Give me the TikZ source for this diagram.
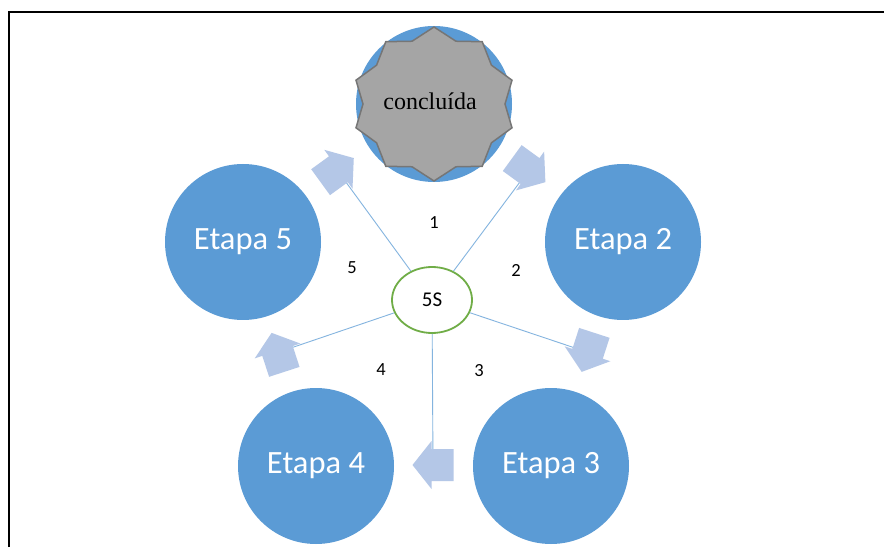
\documentclass[tikz,border=0pt]{standalone}
\usepackage{fontspec}
\setmainfont{Carlito}
\newfontfamily\serifface{Liberation Serif}
\usetikzlibrary{shapes.geometric,calc}
\definecolor{stepblue}{HTML}{5B9BD5}
\definecolor{arrowblue}{HTML}{B4C7E7}
\definecolor{ringgreen}{HTML}{70AD47}
\definecolor{stargray}{HTML}{A5A5A5}
\definecolor{staredge}{HTML}{767676}
\begin{document}
\begin{tikzpicture}[x=1pt,y=1pt,
  stage/.style={circle,fill=stepblue,minimum size=156pt,inner sep=0pt,text=white,font=\fontsize{32.5}{36}\selectfont},
  hub/.style={ellipse,draw=ringgreen,line width=1.8pt,fill=white,minimum width=80pt,minimum height=66pt,inner sep=0pt,font=\fontsize{21}{24}\selectfont},
  spoke/.style={draw=stepblue!75,line width=0.9pt},
  tag/.style={font=\fontsize{18.5}{20}\selectfont},
  blockarrow/.pic={\fill[arrowblue] (-20.5,-16) -- (1.5,-16) -- (1.5,-24) -- (20.5,0) -- (1.5,24) -- (1.5,16) -- (-20.5,16) -- cycle;},
]
\useasboundingbox (0,0) rectangle (884,547);
\fill[white] (0,0) rectangle (884,547);
% frame
\draw[line width=1.8pt] (9,0) -- (9,535) -- (884,535);

% stage circles
\node[stage] (top) at (434,443) {};
\node[stage] (e2) at (623,305) {Etapa 2};
\node[stage] (e3) at (551,81) {Etapa 3};
\node[stage] (e4) at (316,81) {Etapa 4};
\node[stage] (e5) at (243,305) {Etapa 5};

% ten-point star on the top circle
\draw[fill=stargray,draw=staredge,line width=1.5pt,line join=miter,shift={(434,443)}]
  (90:82 and 77) \foreach \k in {0,...,9} { -- ({108+36*\k}:71 and 66) -- ({126+36*\k}:82 and 77) } -- cycle;
\node[font=\serifface\fontsize{24}{26}\selectfont] (done) at (430,446) {concluída};

% arrow positions around the hub
\coordinate (c0) at (433,245);
\coordinate (a1) at ($(c0)+(54:163)$);
\coordinate (a2) at ($(c0)+(-18:163)$);
\coordinate (a3) at ($(c0)+(-90:163)$);
\coordinate (a4) at ($(c0)+(-162:163)$);
\coordinate (a5) at ($(c0)+(126:163)$);

\node[hub] (hub) at (432,247) {5S};

% spokes
\foreach \a in {a1,a2,a3,a4,a5} \draw[spoke] (hub) -- (\a);

% cycle arrows
\path (a1) pic[rotate=-36] {blockarrow};
\path (a2) pic[rotate=-108] {blockarrow};
\path (a3) pic[rotate=180] {blockarrow};
\path (a4) pic[rotate=108] {blockarrow};
\path (a5) pic[rotate=36] {blockarrow};

% sector numbers
\node[tag] (n1) at (434,324) {1};
\node[tag] (n2) at (516,277) {2};
\node[tag] (n3) at (479,176) {3};
\node[tag] (n4) at (381,177) {4};
\node[tag] (n5) at (352,279) {5};
\end{tikzpicture}
\end{document}
